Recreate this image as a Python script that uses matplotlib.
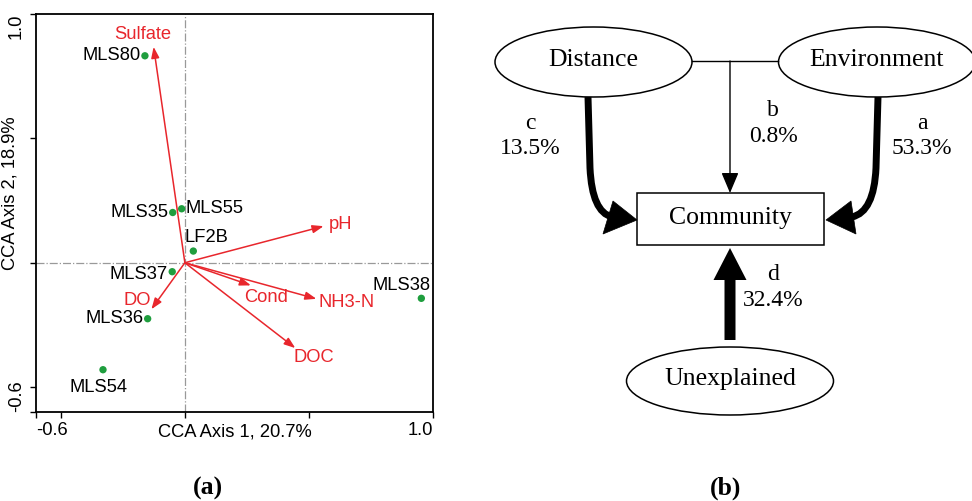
import numpy as np
import matplotlib.pyplot as plt
from matplotlib.patches import Ellipse, Rectangle, PathPatch, Polygon
from matplotlib.path import Path

# CCA site scores
sites = ['MLS80', 'MLS35', 'MLS55', 'LF2B', 'MLS37', 'MLS36', 'MLS54', 'MLS38']
site_x = [-0.161, -0.049, -0.013, 0.034, -0.051, -0.150, -0.330, 0.953]
site_y = [0.832, 0.202, 0.217, 0.047, -0.036, -0.225, -0.430, -0.143]

# environmental vectors
env_vars = ['Sulfate', 'pH', 'Cond', 'NH3-N', 'DOC', 'DO']
env_x = [-0.126, 0.559, 0.266, 0.530, 0.445, -0.135]
env_y = [0.868, 0.147, -0.091, -0.145, -0.343, -0.187]

axis1_pct = 20.7
axis2_pct = 18.9

# variation partitioning (b)
part_names = ['a', 'b', 'c', 'd']
part_values = [53.3, 0.8, 13.5, 32.4]

red = '#e8262c'
green = '#1f9e3e'
sans = 'Liberation Sans'
serif = 'Liberation Serif'
fs = 13.2

fig = plt.figure(figsize=(9.72, 5.01), dpi=100)

# ---------------- (a) CCA biplot ----------------
ax = fig.add_axes([36 / 972, 1 - 412 / 501, 397 / 972, 398 / 501])
ax.set_xlim(-0.6, 1.0)
ax.set_ylim(-0.6, 1.0)
ax.axhline(0, color='#999999', lw=0.9, ls='-.', zorder=0)
ax.axvline(0, color='#999999', lw=0.9, ls='-.', zorder=0)

for x, y in zip(env_x, env_y):
    ax.annotate('', xy=(x, y), xytext=(0, 0),
                arrowprops=dict(arrowstyle='-|>,head_length=0.55,head_width=0.2',
                                color=red, lw=1.1, shrinkA=0, shrinkB=0,
                                mutation_scale=12))

ax.scatter(site_x, site_y, s=28, color=green, zorder=3, edgecolors='none')

# label offsets in points (layout only)
site_off = {'MLS80': (-3, 0, 'right', 'center'), 'MLS35': (-3, 0, 'right', 'center'),
            'MLS55': (3, 0, 'left', 'center'), 'LF2B': (-6, 4, 'left', 'bottom'),
            'MLS37': (-3, -2, 'right', 'center'), 'MLS36': (-3, 0, 'right', 'center'),
            'MLS54': (-3, -7, 'center', 'top'), 'MLS38': (-14, 9, 'center', 'center')}
for name, x, y in zip(sites, site_x, site_y):
    dx, dy, ha, va = site_off[name]
    ax.annotate(name, (x, y), xytext=(dx, dy), textcoords='offset points',
                ha=ha, va=va, fontsize=fs, family=sans)

env_off = {'Sulfate': (-8, 9, 'center', 'center'), 'pH': (4, 1, 'left', 'center'),
           'Cond': (11, -8.5, 'center', 'center'), 'NH3-N': (22, -3, 'center', 'center'),
           'DOC': (13, -7, 'center', 'center'), 'DO': (-10, 6, 'center', 'center')}
for name, x, y in zip(env_vars, env_x, env_y):
    dx, dy, ha, va = env_off[name]
    ax.annotate(name, (x, y), xytext=(dx, dy), textcoords='offset points',
                ha=ha, va=va, fontsize=fs, family=sans, color=red)

ax.set_xticks([-0.6, -0.5, 0, 0.5, 1.0])
ax.set_xticklabels(['-0.6', '', '', '', '1.0'], fontsize=fs, family=sans)
ax.set_yticks([-0.6, -0.5, 0, 0.5, 1.0])
ax.set_yticklabels(['-0.6', '', '', '', '1.0'], fontsize=fs, family=sans,
                   rotation=90)
ax.tick_params(direction='out', length=4, width=1, pad=3)
ax.tick_params(axis='y', pad=4)
ax.get_xticklabels()[0].set_ha('left')
ax.get_xticklabels()[-1].set_ha('right')
ax.get_yticklabels()[0].set_va('bottom')
ax.get_yticklabels()[-1].set_va('top')
for sp in ax.spines.values():
    sp.set_linewidth(1.3)

ax.text(0.5, -0.03, f'CCA Axis 1, {axis1_pct}%', transform=ax.transAxes,
        ha='center', va='top', fontsize=fs, family=sans)
ax.text(-0.043, 0.551, f'CCA Axis 2, {axis2_pct}%', transform=ax.transAxes,
        ha='right', va='center', rotation=90, fontsize=fs, family=sans)

fig.text(208 / 972, 1 - 488 / 501, '(a)', ha='center', va='center',
         fontsize=18.5, fontweight='bold', family=serif)

# ---------------- (b) variation partitioning diagram ----------------
bx = fig.add_axes([0, 0, 1, 1])
bx.set_xlim(0, 972)
bx.set_ylim(501, 0)
bx.axis('off')

ell_kw = dict(fill=False, ec='black', lw=1.1)
bx.add_patch(Ellipse((593.5, 62), 197, 70, **ell_kw))
bx.add_patch(Ellipse((877, 62), 197, 70, **ell_kw))
bx.add_patch(Ellipse((730, 381), 207, 68, **ell_kw))
bx.add_patch(Rectangle((636.7, 193.3), 187.6, 51.7, fill=False, ec='black', lw=1.1))

tkw = dict(ha='center', va='center', fontsize=18.5, family=serif)
bx.text(593.5, 60, 'Distance', **tkw)
bx.text(877, 60, 'Environment', **tkw)
bx.text(730.5, 218, 'Community', **tkw)
bx.text(730, 379, 'Unexplained', **tkw)

# shared fraction b: thin connector and arrow
bx.plot([692, 778], [61, 61], color='black', lw=1.0)
bx.annotate('', xy=(730, 193), xytext=(730, 61),
            arrowprops=dict(arrowstyle='-|>,head_length=0.9,head_width=0.38',
                            color='black', lw=1.0, shrinkA=0, shrinkB=0,
                            mutation_scale=14))

# thick curved arrows c and a: shaft + triangular head
shafts = [[(588, 97), (590, 168), (592, 212), (612, 217)],
          [(878, 97), (876, 168), (874, 212), (852, 217)]]
heads = [[(613, 201), (603, 234), (637, 220)],
         [(851, 201), (856, 234), (826, 220)]]
for sv, hv in zip(shafts, heads):
    p = Path(sv, [Path.MOVETO, Path.LINETO, Path.CURVE3, Path.CURVE3])
    bx.add_patch(PathPatch(p, fill=False, ec='black', lw=5, capstyle='butt'))
    bx.add_patch(Polygon(hv, closed=True, fc='black', ec='black', lw=0.5))

# thick straight arrow d
bx.arrow(730, 340, 0, -60, width=11, head_width=33, head_length=32,
         length_includes_head=False, color='black', lw=0)

lab_pos = {'a': (922, 123), 'b': (773, 110), 'c': (530, 123), 'd': (773, 275)}
for name, val in zip(part_names, part_values):
    x, y = lab_pos[name]
    bx.text(x, y, name, ha='center', va='center', fontsize=17, family=serif)
    bx.text(x, y + 26, f'{val}%', ha='center', va='center', fontsize=17,
            family=serif)

fig.text(725.7 / 972, 1 - 488 / 501, '(b)', ha='center', va='center',
         fontsize=18.5, fontweight='bold', family=serif)

fig.savefig('out.png', dpi=100)
